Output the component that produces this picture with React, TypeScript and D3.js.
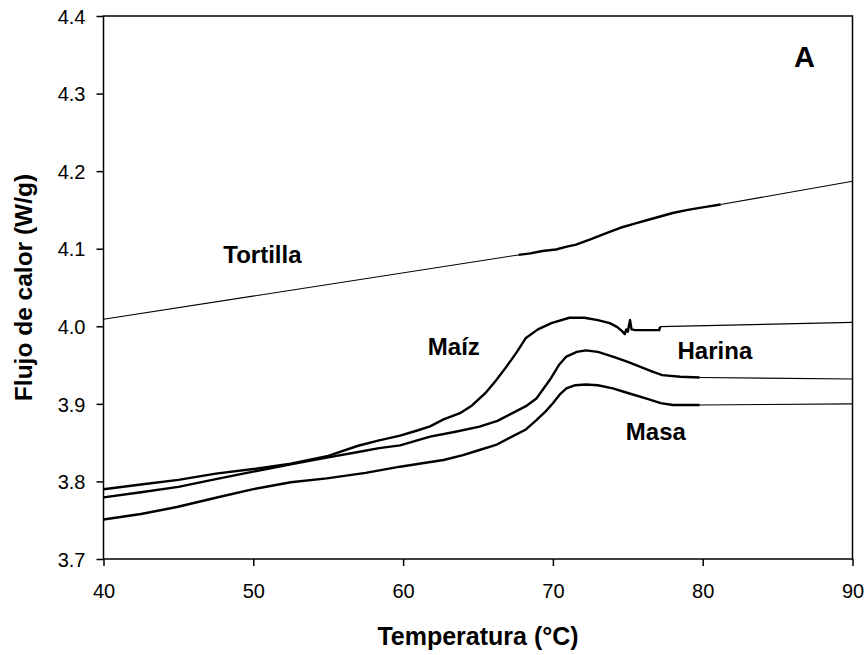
import React, { useEffect, useRef } from 'react'
import * as d3 from 'd3'

// axis ticks
const xTicks = [40, 50, 60, 70, 80, 90]
const yTicks = [3.7, 3.8, 3.9, 4.0, 4.1, 4.2, 4.3, 4.4]

// DSC curves: [temperatura, flujo]
const tortilla: [number, number][] = [
    [40, 4.009], [67.7, 4.092], [68.5, 4.094], [69.3, 4.097], [70.2, 4.099],
    [71.0, 4.103], [71.5, 4.105], [72.5, 4.112], [73.7, 4.121], [74.5, 4.127],
    [75.4, 4.132], [76.5, 4.138], [78.0, 4.146], [79.0, 4.150], [80.2, 4.154],
    [81.2, 4.157], [90, 4.187]
]

const maiz: [number, number][] = [
    [40, 3.790], [42.5, 3.796], [45, 3.802], [47.5, 3.810], [50, 3.816],
    [52.5, 3.823], [55, 3.833], [57, 3.846], [58.4, 3.853], [59.8, 3.859],
    [61, 3.866], [61.8, 3.871], [62.7, 3.880], [63.8, 3.888], [64.6, 3.898],
    [65.5, 3.914], [66.2, 3.930], [66.9, 3.948], [67.6, 3.967], [68.2, 3.985],
    [69.0, 3.996], [69.9, 4.004], [71.1, 4.011], [72.1, 4.011], [73.0, 4.008],
    [73.8, 4.004], [74.3, 3.999], [74.6, 3.994], [74.8, 3.990], [74.9, 3.996],
    [75.0, 3.993], [75.15, 4.008], [75.25, 3.996], [75.5, 3.995], [77.1, 3.995],
    [77.15, 3.9995], [90, 4.005]
]

const harina: [number, number][] = [
    [40, 3.7795], [42.5, 3.786], [45, 3.793], [47.5, 3.803], [50, 3.8126],
    [52.5, 3.822], [55, 3.831], [57, 3.838], [58.4, 3.843], [59.8, 3.8465],
    [61.8, 3.8577], [63.5, 3.864], [65.1, 3.8706], [66.3, 3.878], [67.3, 3.888],
    [68.2, 3.897], [68.9, 3.907], [69.8, 3.931], [70.4, 3.950], [70.9, 3.961],
    [71.6, 3.967], [72.2, 3.969], [73.0, 3.967], [74.0, 3.961], [75.0, 3.954],
    [75.8, 3.948], [76.6, 3.942], [77.3, 3.937], [78.5, 3.935], [79.8, 3.934],
    [90, 3.932]
]

const masa: [number, number][] = [
    [40, 3.751], [42.5, 3.758], [44.9, 3.767], [47.5, 3.779], [50, 3.790],
    [52.5, 3.799], [54.9, 3.804], [57.5, 3.811], [59.8, 3.819], [61.5, 3.824],
    [62.7, 3.8276], [64, 3.834], [65.1, 3.8405], [66.2, 3.847], [67.3, 3.858],
    [68.2, 3.867], [68.9, 3.879], [69.5, 3.890], [70.0, 3.9007], [70.5, 3.913],
    [70.9, 3.920], [71.5, 3.924], [72.2, 3.925], [73.0, 3.924], [74.0, 3.920],
    [75.0, 3.914], [76.2, 3.907], [77.2, 3.901], [78.0, 3.8985], [79.8, 3.8985],
    [90, 3.900]
]

// stretch of each curve drawn with the heavy pen
const thickSpans: [number, number][] = [[67.7, 81.2], [40, 77.15], [40, 79.8], [40, 79.8]]
const curves = [tortilla, maiz, harina, masa]

const labelNames = ['Tortilla', 'Maíz', 'Harina', 'Masa']
const labelPos: [number, number][] = [[48.0, 4.082], [61.65, 3.963], [78.32, 3.9574], [74.87, 3.8537]]

export default function App() {
    const ref = useRef<SVGSVGElement>(null)

    useEffect(() => {
        document.body.style.margin = '0'
        const svg = d3.select(ref.current)
        svg.selectAll('*').remove()

        const left = 103.5, right = 852.5, top = 16, bottom = 559
        const font = 'Liberation Sans, Arial, sans-serif'

        const x = d3.scaleLinear().domain([40, 90]).range([left, right])
        const y = d3.scaleLinear().domain([3.7, 4.4]).range([bottom, top])

        const line = d3.line<[number, number]>()
            .x(d => x(d[0]))
            .y(d => y(d[1]))

        // curves
        const g = svg.append('g')
        curves.forEach((pts, i) => {
            const [a, b] = thickSpans[i]
            const before = pts.filter(d => d[0] <= a)
            const mid = pts.filter(d => d[0] >= a && d[0] <= b)
            const after = pts.filter(d => d[0] >= b)
            ;[before, after].forEach(seg => {
                if (seg.length > 1) {
                    g.append('path').attr('d', line(seg))
                        .attr('fill', 'none').attr('stroke', '#000').attr('stroke-width', 1.1)
                }
            })
            g.append('path').attr('d', line(mid))
                .attr('fill', 'none').attr('stroke', '#000').attr('stroke-width', 2.4)
                .attr('stroke-linejoin', 'round')
        })

        // frame
        svg.append('rect')
            .attr('x', left).attr('y', top)
            .attr('width', right - left).attr('height', bottom - top)
            .attr('fill', 'none').attr('stroke', '#000').attr('stroke-width', 1.5)

        // axes
        const xAxis = d3.axisBottom(x).tickValues(xTicks).tickSize(7).tickPadding(18)
            .tickFormat(d3.format('d'))
        const yAxis = d3.axisLeft(y).tickValues(yTicks).tickSize(7).tickPadding(11)
            .tickFormat(d3.format('.1f'))

        const xg = svg.append('g').attr('transform', `translate(0,${bottom})`).call(xAxis)
        const yg = svg.append('g').attr('transform', `translate(${left},0)`).call(yAxis)
        ;[xg, yg].forEach(ax => {
            ax.select('.domain').remove()
            ax.selectAll('line').attr('stroke', '#000').attr('stroke-width', 1.5)
            ax.selectAll('text').attr('font-family', font).attr('font-size', 20).attr('fill', '#000')
        })
        yg.selectAll('text').attr('dy', '0.36em')

        // axis titles
        svg.append('text')
            .attr('x', (left + right) / 2).attr('y', 645)
            .attr('text-anchor', 'middle')
            .attr('font-family', font).attr('font-size', 25).attr('font-weight', 'bold')
            .text('Temperatura (°C)')

        svg.append('text')
            .attr('transform', `translate(31.5,${(top + bottom) / 2}) rotate(-90)`)
            .attr('text-anchor', 'middle')
            .attr('font-family', font).attr('font-size', 24.5).attr('font-weight', 'bold')
            .text('Flujo de calor (W/g)')

        // curve labels
        labelNames.forEach((name, i) => {
            svg.append('text')
                .attr('x', x(labelPos[i][0])).attr('y', y(labelPos[i][1]))
                .attr('font-family', font).attr('font-size', 24).attr('font-weight', 'bold')
                .text(name)
        })

        // panel letter
        svg.append('text')
            .attr('x', x(86.1)).attr('y', y(4.334))
            .attr('font-family', font).attr('font-size', 29).attr('font-weight', 'bold')
            .text('A')
    }, [])

    return <svg ref={ref} width={865} height={655} style={{ display: 'block' }} />
}
